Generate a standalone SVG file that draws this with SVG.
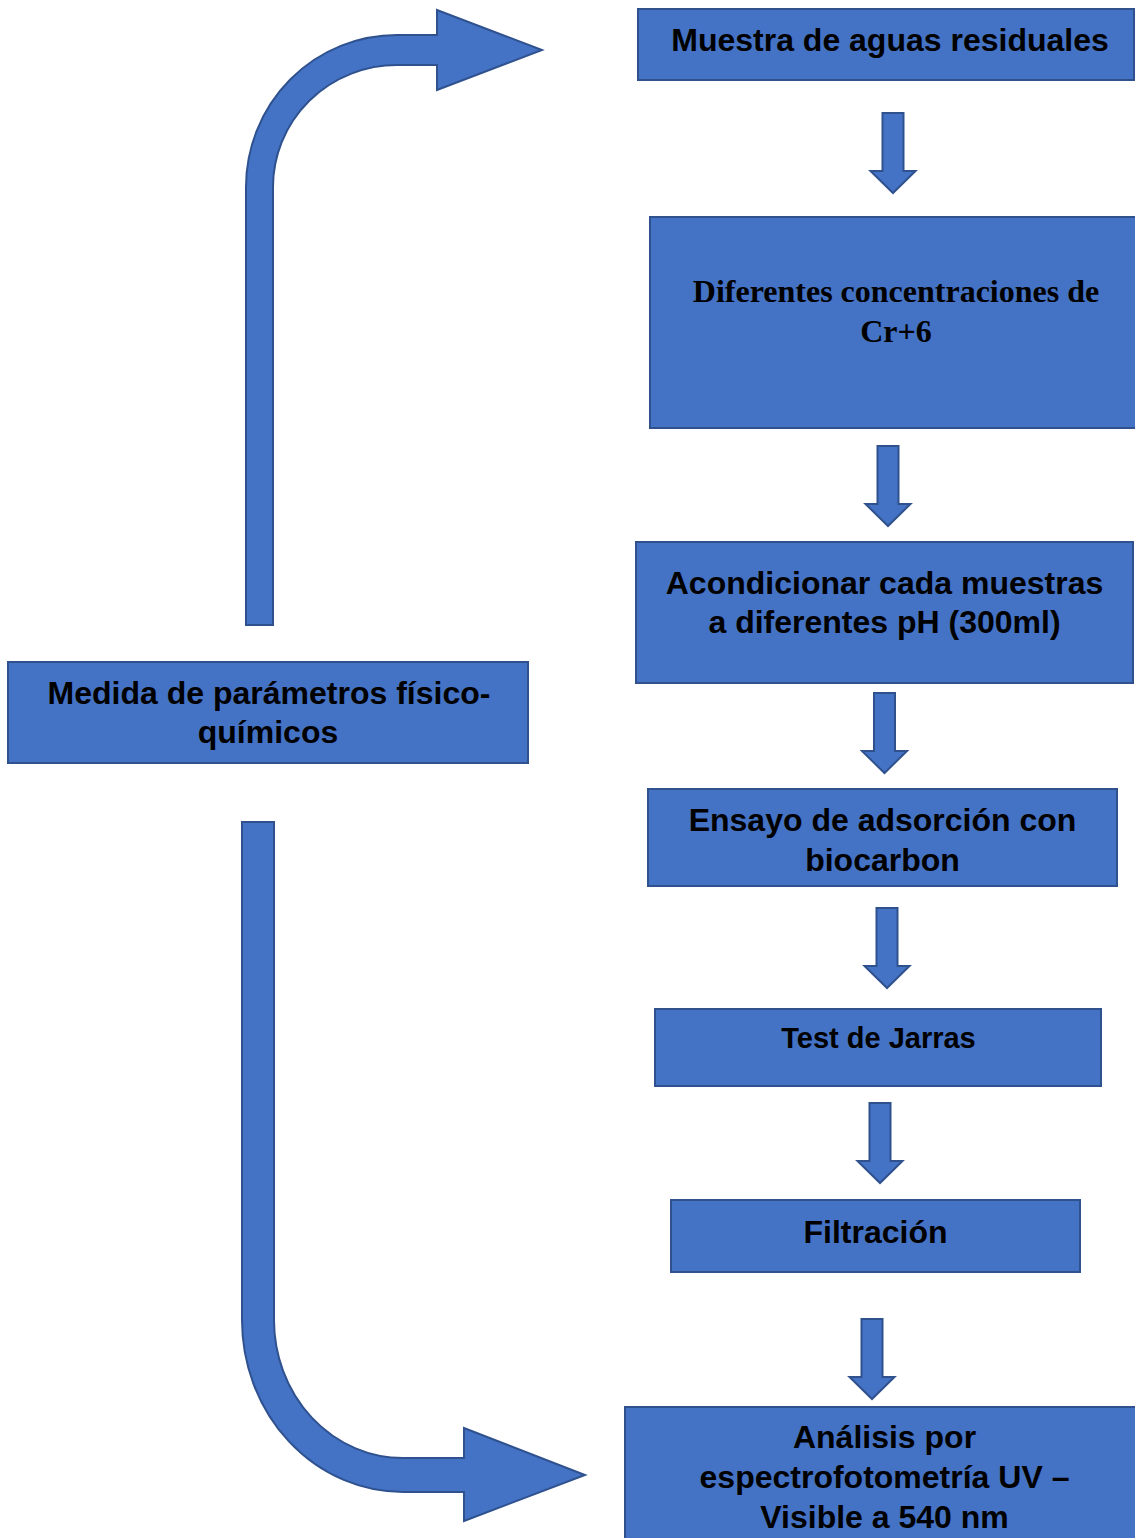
<svg xmlns="http://www.w3.org/2000/svg" xmlns:xlink="http://www.w3.org/1999/xlink" width="1135" height="1538" viewBox="0 0 1135 1538">
  <style>
    .box { fill: #4472C4; stroke: #2F528F; stroke-width: 2; }
    .arr { fill: #4472C4; stroke: #2F528F; stroke-width: 2; stroke-linejoin: miter; }
    .t { font-family: "Liberation Sans", Arial, sans-serif; font-weight: bold; font-size: 32px; fill: #000; text-anchor: middle; }
    .ts { font-family: "Liberation Serif", "Times New Roman", serif; font-weight: bold; font-size: 32px; fill: #000; text-anchor: middle; }
  </style>
  <defs>
    <path id="down" d="M-10.5,0 H10.5 V58 H22.5 L0,80 L-22.5,58 H-10.5 Z"/>
  </defs>
  <rect width="1135" height="1538" fill="#FFFFFF"/>

  <g id="connectors">
    <path class="arr" d="M246,625 V187 A151,152 0 0 1 397,35 H437 V10 L542,50 L437,90 V65 H397 A124,122 0 0 0 273,187 V625 Z"/>
    <path class="arr" d="M242,822 H274 V1320 A129,138 0 0 0 403,1458 H464 V1428 L585,1475 L464,1521 V1492 H403 A161,172 0 0 1 242,1320 Z"/>
    <use href="#down" class="arr" transform="translate(893,113)"/>
    <use href="#down" class="arr" transform="translate(888,446)"/>
    <use href="#down" class="arr" transform="translate(884.5,693)"/>
    <use href="#down" class="arr" transform="translate(887,908)"/>
    <use href="#down" class="arr" transform="translate(880,1103)"/>
    <use href="#down" class="arr" transform="translate(872,1319)"/>
  </g>

  <g id="node-muestra">
    <rect class="box" x="638" y="9" width="496" height="71"/>
    <text class="t" x="890" y="51">Muestra de aguas residuales</text>
  </g>

  <g id="node-concentraciones">
    <rect class="box" x="650" y="217" width="495" height="211"/>
    <text class="ts" x="896" y="302">Diferentes concentraciones de</text>
    <text class="ts" x="896" y="342">Cr+6</text>
  </g>

  <g id="node-acondicionar">
    <rect class="box" x="636" y="542" width="497" height="141"/>
    <text class="t" x="884.5" y="594">Acondicionar cada muestras</text>
    <text class="t" x="884.5" y="633">a diferentes pH (300ml)</text>
  </g>

  <g id="node-medida">
    <rect class="box" x="8" y="662" width="520" height="101"/>
    <text class="t" x="269" y="704">Medida de parámetros físico-</text>
    <text class="t" x="268" y="743">químicos</text>
  </g>

  <g id="node-ensayo">
    <rect class="box" x="648" y="789" width="469" height="97"/>
    <text class="t" x="882.5" y="831">Ensayo de adsorción con</text>
    <text class="t" x="882.5" y="871">biocarbon</text>
  </g>

  <g id="node-test">
    <rect class="box" x="655" y="1009" width="446" height="77"/>
    <text class="t" x="878.5" y="1048" style="font-size:29px">Test de Jarras</text>
  </g>

  <g id="node-filtracion">
    <rect class="box" x="671" y="1200" width="409" height="72"/>
    <text class="t" x="875.5" y="1243">Filtración</text>
  </g>

  <g id="node-analisis">
    <rect class="box" x="625" y="1407" width="520" height="140"/>
    <text class="t" x="884.5" y="1448">Análisis por</text>
    <text class="t" x="884.5" y="1488">espectrofotometría UV –</text>
    <text class="t" x="884.5" y="1528">Visible a 540 nm</text>
  </g>
</svg>
